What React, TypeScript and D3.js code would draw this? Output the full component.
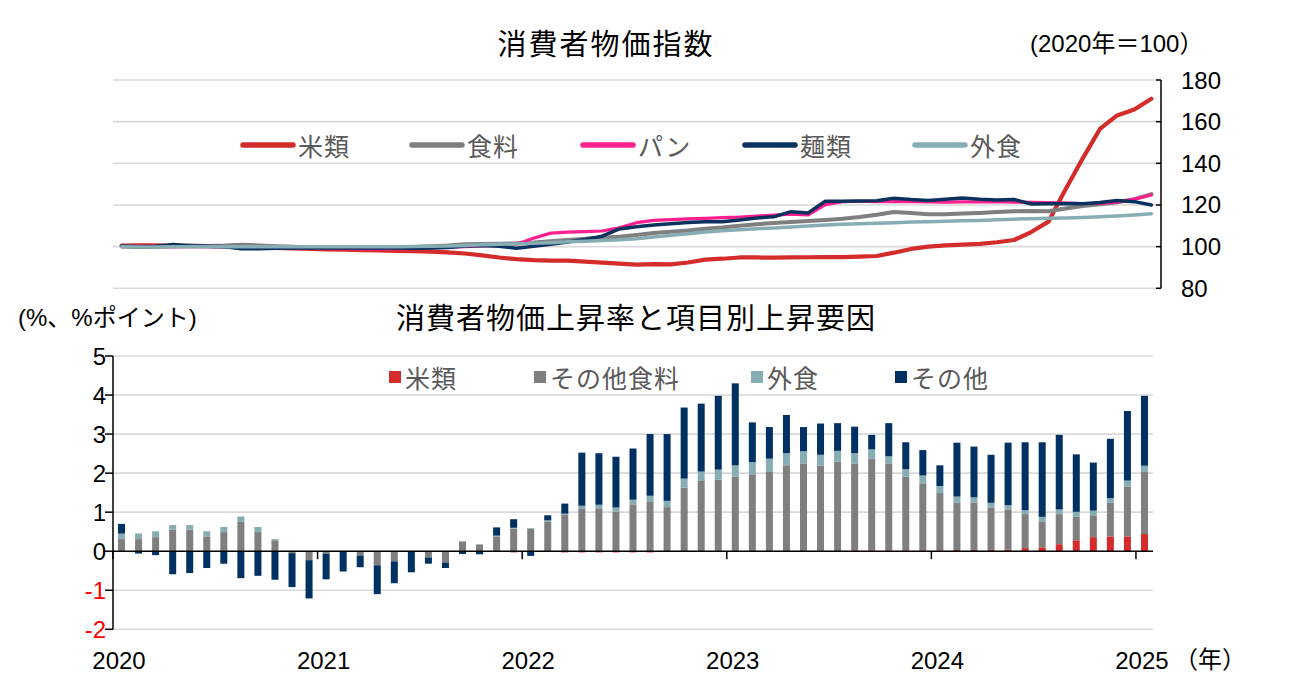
import React from "react";
import * as d3 from "d3";

// monthly categories 2020-01 .. 2025-01
const years = ["2020", "2021", "2022", "2023", "2024", "2025"];
const months: string[] = [];
years.forEach((y) => {
  for (let m = 1; m <= 12; m++) {
    if (y === "2025" && m > 1) break;
    months.push(`${y}-${String(m).padStart(2, "0")}`);
  }
});

// ---- top panel: CPI index (2020 = 100)
const riceIdx = [
  100.5, 100.6, 100.6, 100.4, 100.3, 100.2, 100.0, 99.8, 99.6, 99.4, 99.1, 98.9,
  98.7, 98.5, 98.3, 98.2, 98.0, 97.8, 97.6, 97.2, 96.7, 95.8, 94.8, 94.0,
  93.5, 93.3, 93.3, 92.8, 92.3, 91.8, 91.4, 91.6, 91.5, 92.4, 93.8, 94.2,
  94.8, 94.8, 94.7, 94.8, 94.9, 95.0, 95.0, 95.2, 95.5, 97.1, 98.9, 100.0,
  100.6, 101.0, 101.3, 102.1, 103.2, 107.0, 112.0, 127.5, 142.4, 156.5, 163.0, 165.8,
  171.0,
];
const foodIdx = [
  100.2, 99.8, 99.9, 100.3, 100.5, 100.3, 100.5, 100.9, 100.6, 100.2, 99.9, 99.6,
  99.7, 99.8, 99.7, 99.5, 99.6, 99.8, 100.2, 100.6, 101.2, 101.3, 101.4, 101.6,
  102.0, 102.6, 103.2, 103.8, 104.3, 104.8, 105.6, 106.5, 107.2, 107.8, 108.6, 109.2,
  110.0, 110.8, 111.3, 111.8, 112.3, 112.8, 113.4, 114.2, 115.3, 116.6, 116.2, 115.6,
  115.6, 115.9, 116.2, 116.6, 117.0, 117.1, 117.0, 118.3, 119.5, 120.3, 121.3, 122.8,
  125.2,
];
const breadIdx = [
  100.0, 100.1, 100.0, 99.9, 100.0, 100.1, 100.0, 99.9, 99.8, 99.7, 99.6, 99.4,
  99.2, 99.0, 98.9, 98.9, 99.0, 99.2, 99.4, 99.7, 100.0, 100.3, 100.6, 101.2,
  104.0, 106.5, 107.0, 107.2, 107.5, 109.0, 111.5, 112.6, 113.0, 113.3, 113.6, 113.9,
  114.2, 114.7, 115.1, 115.6, 115.2, 120.2, 121.6, 121.8, 121.6, 121.6, 121.6, 121.5,
  121.4, 121.5, 121.5, 121.6, 121.4, 121.3, 121.2, 120.9, 120.7, 120.8, 121.3, 122.8,
  124.8,
];
const noodleIdx = [
  100.3, 100.0, 100.2, 101.0, 100.4, 100.2, 100.0, 99.0, 99.0, 99.2, 99.4, 99.5,
  99.4, 99.3, 99.4, 99.5, 99.3, 99.2, 99.3, 99.6, 100.3, 100.5, 100.2, 99.2,
  100.2, 101.2, 102.2, 103.4, 105.0, 108.5, 109.6, 110.4, 111.0, 111.6, 112.0, 112.0,
  112.8, 113.8, 114.3, 116.8, 116.2, 121.8, 121.8, 121.9, 122.0, 123.2, 122.6, 122.2,
  122.8, 123.4, 122.7, 122.4, 122.6, 120.5, 120.6, 120.7, 120.6, 121.2, 122.2, 121.6,
  120.0,
];
const diningIdx = [
  100.0, 99.8, 99.8, 100.0, 100.0, 100.0, 99.9, 99.9, 100.0, 100.0, 99.9, 100.0,
  100.0, 100.0, 100.0, 99.9, 100.0, 100.1, 100.2, 100.3, 100.6, 100.9, 101.1, 101.3,
  101.6, 101.9, 102.3, 102.6, 102.9, 103.3, 103.8, 104.6, 105.5, 106.2, 107.0, 107.6,
  108.1, 108.6, 109.0, 109.4, 109.9, 110.4, 110.8, 111.0, 111.2, 111.5, 111.8, 112.0,
  112.2, 112.4, 112.6, 112.9, 113.2, 113.4, 113.6, 113.8, 114.0, 114.3, 114.7, 115.2,
  115.8,
];
const topTicks = [80, 100, 120, 140, 160, 180];

// ---- bottom panel: contributions (%pt)
const riceCon = [
  0, 0, 0, 0, 0, 0, 0, 0, 0, 0, 0, 0,
  0, 0, 0, 0, 0, 0, 0, 0, 0, 0, 0, -0.03,
  0, 0, -0.03, -0.03, -0.03, -0.03, -0.03, -0.03, 0, 0, 0, 0,
  0, 0, 0, 0, 0, 0.01, 0, 0.02, 0.02, 0.02, 0.02, 0.02,
  0.02, 0.03, 0.03, 0.03, 0.04, 0.08, 0.1, 0.18, 0.28, 0.36, 0.38, 0.38,
  0.44,
];
const otherFoodCon = [
  0.31, 0.31, 0.36, 0.55, 0.55, 0.38, 0.49, 0.75, 0.49, 0.28, -0.05, -0.23,
  -0.07, -0.01, -0.11, -0.36, -0.26, -0.01, -0.16, -0.29, 0.25, 0.16, 0.38, 0.58,
  0.57, 0.75, 0.94, 1.08, 1.1, 1.01, 1.2, 1.26, 1.13, 1.63, 1.8, 1.83,
  1.91, 1.97, 2.03, 2.2, 2.25, 2.18, 2.29, 2.23, 2.34, 2.23, 1.89, 1.72,
  1.47, 1.22, 1.22, 1.09, 1.03, 0.87, 0.65, 0.77, 0.6, 0.56, 0.86, 1.28,
  1.59,
];
const diningCon = [
  0.14, 0.145, 0.15, 0.12, 0.12, 0.13, 0.13, 0.14, 0.13, 0.03, 0, 0,
  0, 0, 0, 0, 0, 0, 0, 0, 0.01, 0.02, 0.02, 0.02,
  0.02, 0.04, 0.02, 0.085, 0.09, 0.11, 0.12, 0.16, 0.16, 0.23, 0.24, 0.26,
  0.29, 0.31, 0.34, 0.31, 0.31, 0.28, 0.28, 0.26, 0.25, 0.18, 0.19, 0.2,
  0.18, 0.15, 0.13, 0.12, 0.11, 0.1, 0.13, 0.12, 0.13, 0.12, 0.12, 0.15,
  0.16,
];
const otherCon = [
  0.25, -0.06, -0.1, -0.59, -0.56, -0.43, -0.32, -0.69, -0.63, -0.73, -0.87, -0.98,
  -0.65, -0.51, -0.3, -0.74, -0.56, -0.53, -0.16, -0.14, -0.07, -0.08, 0.21, 0.22,
  -0.12, 0.13, 0.26, 1.36, 1.32, 1.3, 1.31, 1.58, 1.71, 1.82, 1.74, 1.89,
  2.1, 1.02, 0.81, 0.98, 0.62, 0.8, 0.71, 0.68, 0.37, 0.85, 0.69, 0.65,
  0.53, 1.38, 1.3, 1.23, 1.6, 1.74, 1.91, 1.91, 1.47, 1.23, 1.52, 1.78,
  1.79,
];
const bottomTicks = [-2, -1, 0, 1, 2, 3, 4, 5];

const lineSeries = [
  { name: "米類", values: riceIdx, color: "#d42b2b", width: 4.2 },
  { name: "食料", values: foodIdx, color: "#7f7f7f", width: 4 },
  { name: "パン", values: breadIdx, color: "#ff1f8e", width: 3.2 },
  { name: "麺類", values: noodleIdx, color: "#0b315e", width: 3.5 },
  { name: "外食", values: diningIdx, color: "#86adb4", width: 3.5 },
];
const barSeries = [
  { key: "rice", name: "米類", values: riceCon, color: "#d42b2b" },
  { key: "otherFood", name: "その他食料", values: otherFoodCon, color: "#7f7f7f" },
  { key: "dining", name: "外食", values: diningCon, color: "#86adb4" },
  { key: "other", name: "その他", values: otherCon, color: "#003162" },
];

const FONT = "'Liberation Sans', 'Noto Sans CJK JP', sans-serif";
const JP = "'Noto Sans CJK JP', sans-serif";
const LEGEND_GRAY = "#595959";
const GRID = "#d9d9d9";

export default function App() {
  const W = 1299;
  const H = 687;

  // top panel scales
  const xTop = d3.scaleBand<string>().domain(months).range([113, 1160]);
  const yTop = d3.scaleLinear().domain([80, 180]).range([288.3, 80]);
  const line = (vals: number[]) =>
    d3
      .line<number>()
      .x((_, i) => (xTop(months[i]) as number) + xTop.bandwidth() / 2)
      .y((d) => yTop(d))(vals) as string;

  // bottom panel scales
  const xBot = d3.scaleBand<string>().domain(months).range([113, 1153]);
  const yBot = d3.scaleLinear().domain([-2, 5]).range([629.3, 356]);
  const table = months.map((m, i) => {
    const row: Record<string, number | string> = { month: m };
    barSeries.forEach((s) => (row[s.key] = s.values[i]));
    return row;
  });
  const stacked = d3
    .stack<Record<string, number | string>>()
    .keys(barSeries.map((s) => s.key))
    .offset(d3.stackOffsetDiverging)(table as any);
  const barW = 7;

  const topLegendX = [243, 412, 583, 745, 915];
  const botLegendX = [389, 534, 751, 895];

  return (
    <svg
      width={W}
      height={H}
      style={{ position: "absolute", left: 0, top: 0, background: "#fff" }}
      fontFamily={FONT}
    >
      {/* ---------- top panel ---------- */}
      <text x={606} y={42} textAnchor="middle" dominantBaseline="central" fontSize={29} letterSpacing={2} fontFamily={JP} fill="#000">
        消費者物価指数
      </text>
      <text x={1030} y={43} dominantBaseline="central" fontSize={24} fill="#000">
        (2020年＝100）
      </text>

      {topTicks.map((t) => (
        <g key={"tg" + t}>
          <line x1={113} x2={1160} y1={yTop(t)} y2={yTop(t)} stroke={GRID} strokeWidth={1.6} />
          <line x1={1156} x2={1161} y1={yTop(t)} y2={yTop(t)} stroke="#000" strokeWidth={1.5} />
          <text x={1181} y={yTop(t)} dominantBaseline="central" fontSize={24} fill="#000">
            {t}
          </text>
        </g>
      ))}
      <line x1={1161} x2={1161} y1={yTop(180)} y2={yTop(80)} stroke="#000" strokeWidth={1.5} />

      {lineSeries.map((s) => (
        <path
          key={s.name}
          d={line(s.values)}
          fill="none"
          stroke={s.color}
          strokeWidth={s.width}
          strokeLinejoin="round"
          strokeLinecap="round"
        />
      ))}

      {lineSeries.map((s, i) => (
        <g key={"tl" + s.name}>
          <line
            x1={topLegendX[i]}
            x2={topLegendX[i] + 50}
            y1={145}
            y2={145}
            stroke={s.color}
            strokeWidth={5.5}
            strokeLinecap="round"
          />
          <text x={topLegendX[i] + 55} y={145} dominantBaseline="central" fontSize={25} letterSpacing={1} fontFamily={JP} fill={LEGEND_GRAY}>
            {s.name}
          </text>
        </g>
      ))}

      {/* ---------- bottom panel ---------- */}
      <text x={18} y={317} dominantBaseline="central" fontSize={24} fill="#000">
        (%、%ポイント)
      </text>
      <text x={636} y={316} textAnchor="middle" dominantBaseline="central" fontSize={29} letterSpacing={1} fontFamily={JP} fill="#000">
        消費者物価上昇率と項目別上昇要因
      </text>

      {bottomTicks.map((t) => (
        <g key={"bg" + t}>
          {t !== 0 && (
            <line x1={113} x2={1153} y1={yBot(t)} y2={yBot(t)} stroke={GRID} strokeWidth={1.6} />
          )}
          <line x1={105} x2={113} y1={yBot(t)} y2={yBot(t)} stroke="#000" strokeWidth={1.5} />
          <text
            x={106}
            y={yBot(t)}
            textAnchor="end"
            dominantBaseline="central"
            fontSize={24}
            fill={t < 0 ? "#ff0000" : "#000"}
          >
            {t}
          </text>
        </g>
      ))}

      {stacked.map((layer, li) => (
        <g key={"layer" + li} fill={barSeries[li].color}>
          {layer.map((d, i) => {
            const y0 = yBot(d[0]);
            const y1 = yBot(d[1]);
            return (
              <rect
                key={i}
                x={(xBot(months[i]) as number) + xBot.bandwidth() / 2 - barW / 2}
                y={Math.min(y0, y1)}
                width={barW}
                height={Math.abs(y0 - y1)}
              />
            );
          })}
        </g>
      ))}

      <line x1={113} x2={113} y1={yBot(5)} y2={yBot(-2)} stroke="#000" strokeWidth={1.5} />
      <line x1={113} x2={1153} y1={yBot(0)} y2={yBot(0)} stroke="#000" strokeWidth={1.5} />

      {years.map((y) => {
        const x = xBot(`${y}-01`) as number;
        return (
          <g key={"yr" + y}>
            <line x1={x} x2={x} y1={yBot(0)} y2={yBot(0) + 8} stroke="#000" strokeWidth={1.5} />
            <text x={x + 6} y={660} textAnchor="middle" dominantBaseline="central" fontSize={24} fill="#000">
              {y}
            </text>
          </g>
        );
      })}
      <text x={1174} y={657} dominantBaseline="central" fontSize={24} fontFamily={JP} fill="#000">
        （年）
      </text>

      {barSeries.map((s, i) => (
        <g key={"bl" + s.key}>
          <rect x={botLegendX[i]} y={371} width={12} height={12} fill={s.color} />
          <text x={botLegendX[i] + 16} y={377} dominantBaseline="central" fontSize={25} letterSpacing={1} fontFamily={JP} fill={LEGEND_GRAY}>
            {s.name}
          </text>
        </g>
      ))}
    </svg>
  );
}
